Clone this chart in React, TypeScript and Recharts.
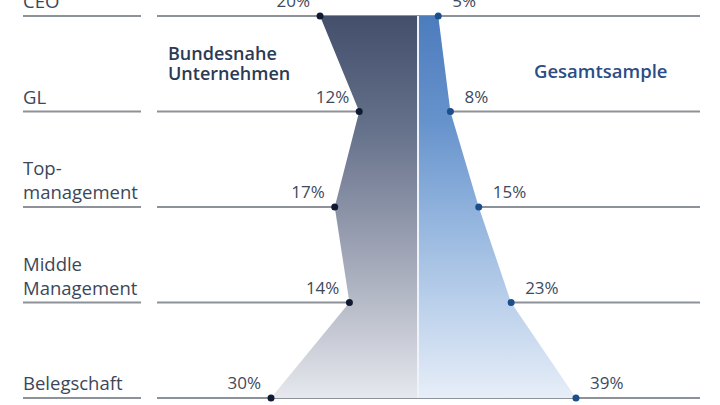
import { Area, CartesianGrid, ComposedChart, LabelList, ReferenceLine, XAxis, YAxis } from "recharts";

const categories = ["CEO", "GL", "Top-\nmanagement", "Middle\nManagement", "Belegschaft"];
const bundesnahe = [20, 12, 17, 14, 30];
const gesamtsample = [5, 8, 15, 23, 39];
const seriesTitles = ["Bundesnahe\nUnternehmen", "Gesamtsample"];

const data = categories.map((name, i) => ({
  name,
  left: -bundesnahe[i],
  right: gesamtsample[i]
}));

const FONT = "'Open Sans', 'Noto Sans', sans-serif";

function CategoryTick(props: any) {
  const { y, payload } = props;
  const lines = String(payload.value).split("\n");
  return (
    <g>
      {lines.map((line, i) => (
        <text
          key={i}
          x={23}
          y={y - 8 - (lines.length - 1 - i) * 24}
          fill="#3b4759"
          fontSize={18.5}
          fontFamily={FONT}
        >
          {line}
        </text>
      ))}
      <line x1={23} x2={141} y1={y} y2={y} stroke="#8d9198" strokeWidth={2} />
    </g>
  );
}

function valueLabel(side: "left" | "right") {
  return (props: any) => {
    const x = props.x ?? props.viewBox?.x;
    const y = props.y ?? props.viewBox?.y;
    const v = Math.abs(Number(props.value));
    return (
      <text
        x={side === "left" ? x - 10 : x + 14}
        y={y - 9}
        textAnchor={side === "left" ? "end" : "start"}
        fill="#3e4a5c"
        fontSize={17}
        fontFamily={FONT}
      >
        {v}%
      </text>
    );
  };
}

export default function App() {
  const [leftTitle, rightTitle] = seriesTitles;
  return (
    <div style={{ position: "absolute", left: 0, top: 0, width: 720, height: 405, background: "#fff" }}>
      <ComposedChart
        width={720}
        height={405}
        data={data}
        layout="vertical"
        margin={{ top: 16, right: 20, bottom: 7, left: 0 }}
      >
        <defs>
          <linearGradient id="gradL" x1="0" y1="0" x2="0" y2="1">
            <stop offset="0%" stopColor="#434f6b" />
            <stop offset="30%" stopColor="#66718b" />
            <stop offset="55%" stopColor="#9299ac" />
            <stop offset="78%" stopColor="#bcc0cc" />
            <stop offset="100%" stopColor="#e6e8ee" />
          </linearGradient>
          <linearGradient id="gradR" x1="0" y1="0" x2="0" y2="1">
            <stop offset="0%" stopColor="#4d7cbd" />
            <stop offset="28%" stopColor="#6793cc" />
            <stop offset="52%" stopColor="#91b3dd" />
            <stop offset="76%" stopColor="#bcd1eb" />
            <stop offset="100%" stopColor="#e7eef8" />
          </linearGradient>
        </defs>
        <CartesianGrid vertical={false} stroke="#8d9198" strokeWidth={2} />
        <XAxis type="number" domain={[-53.27, 57.55]} hide allowDataOverflow />
        <XAxis xAxisId="r" type="number" domain={[-64.44, 69.63]} hide allowDataOverflow />
        <YAxis
          type="category"
          dataKey="name"
          scale="point"
          width={157}
          axisLine={false}
          tickLine={false}
          tick={<CategoryTick />}
          interval={0}
        />
        <Area
          dataKey="left"
          type="linear"
          baseValue={0}
          stroke="none"
          fill="url(#gradL)"
          fillOpacity={1}
          dot={{ r: 3.5, fill: "#101b33", stroke: "none" }}
          activeDot={false}
          isAnimationActive={false}
        >
          <LabelList dataKey="left" content={valueLabel("left")} />
        </Area>
        <Area
          dataKey="right"
          xAxisId="r"
          type="linear"
          baseValue={0}
          stroke="none"
          fill="url(#gradR)"
          fillOpacity={1}
          dot={{ r: 3.5, fill: "#1d4e8c", stroke: "none" }}
          activeDot={false}
          isAnimationActive={false}
        >
          <LabelList dataKey="right" content={valueLabel("right")} />
        </Area>
        <ReferenceLine x={0} stroke="#eef3fa" strokeWidth={2} />
      </ComposedChart>
      <svg width={720} height={405} style={{ position: "absolute", left: 0, top: 0, pointerEvents: "none" }}>
        {leftTitle.split("\n").map((line, i) => (
          <text key={i} x={168} y={60 + i * 20} fill="#2b3a55" fontSize={18} fontWeight={600} fontFamily={FONT}>
            {line}
          </text>
        ))}
        <text x={534} y={78} fill="#2c4c85" fontSize={18.5} fontWeight={600} fontFamily={FONT}>
          {rightTitle}
        </text>
      </svg>
    </div>
  );
}
